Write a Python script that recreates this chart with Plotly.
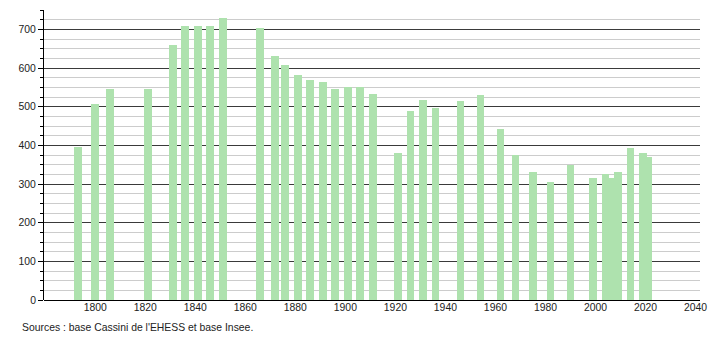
import plotly.graph_objects as go

years = [1793, 1800, 1806, 1821, 1831, 1836, 1841, 1846, 1851, 1866, 1872, 1876,
         1881, 1886, 1891, 1896, 1901, 1906, 1911, 1921, 1926, 1931, 1936, 1946,
         1954, 1962, 1968, 1975, 1982, 1990, 1999, 2004, 2006, 2009, 2014, 2019, 2021]
population = [396, 506, 546, 546, 659, 709, 709, 709, 729, 703, 630, 609,
              581, 569, 563, 545, 552, 550, 534, 379, 488, 516, 496, 514,
              529, 441, 375, 332, 304, 349, 316, 327, 316, 330, 392, 379, 369]

x_ticks = [1800, 1820, 1840, 1860, 1880, 1900, 1920, 1940, 1960, 1980, 2000, 2020, 2040]
y_ticks = [0, 100, 200, 300, 400, 500, 600, 700]
source_text = "Sources : base Cassini de l'EHESS et base Insee."

fig = go.Figure()
fig.add_trace(go.Bar(
    x=years, y=population, width=3.1,
    marker=dict(color="#aee2ae", line=dict(width=0)),
    hoverinfo="x+y",
))

font = dict(family="Liberation Sans, Arial, sans-serif", size=10.4, color="#222222")

fig.update_layout(
    width=710, height=340,
    margin=dict(l=44, r=10, t=10, b=40),
    paper_bgcolor="white", plot_bgcolor="white",
    showlegend=False,
    font=font,
    bargap=0,
    xaxis=dict(
        range=[1779.5, 2041.8],
        tickvals=x_ticks,
        ticktext=[str(v) for v in x_ticks],
        showgrid=False, zeroline=False,
        showline=False, ticks="",
        tickfont=font, automargin=False,
    ),
    yaxis=dict(
        range=[0, 750],
        tickvals=y_ticks,
        ticktext=[str(v) for v in y_ticks],
        showgrid=True, gridcolor="#3a3a3a", gridwidth=1,
        zeroline=True, zerolinecolor="#000000", zerolinewidth=1,
        showline=True, linecolor="#000000", linewidth=1,
        ticks="outside", ticklen=5, tickcolor="#000000",
        tickfont=font, automargin=False,
        minor=dict(dtick=25, tick0=0, showgrid=True, gridcolor="#cccccc",
                   gridwidth=1, ticks="outside", ticklen=3, tickcolor="#000000"),
    ),
    annotations=[dict(
        text=source_text, xref="paper", yref="paper",
        x=-24 / 656, y=-27 / 290, xanchor="left", yanchor="middle",
        showarrow=False, font=font,
    )],
)

fig.write_html("out.html")
